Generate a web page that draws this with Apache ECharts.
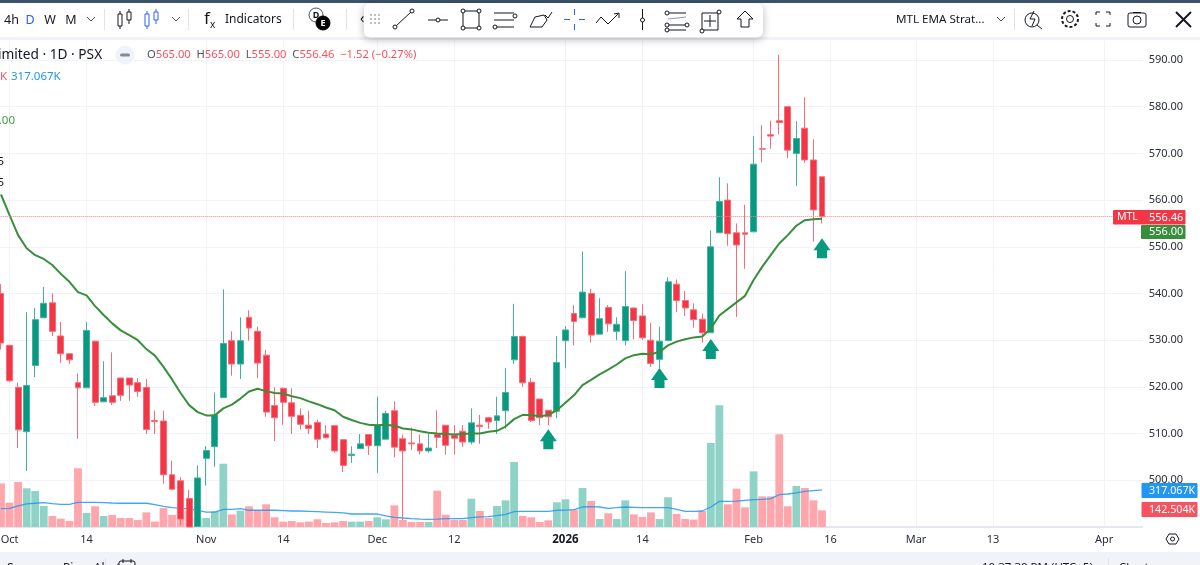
<!DOCTYPE html>
<html>
<head>
<meta charset="utf-8">
<title>MTL EMA Strategy</title>
<script src="https://cdn.jsdelivr.net/npm/echarts@6/dist/echarts.min.js"></script>
<style>
html,body{margin:0;padding:0;background:#fff;overflow:hidden}
#chart{width:1200px;height:565px}
</style>
</head>
<body>
<div id="chart"></div>
<script>
// trading days, last few are the empty space right of the last candle
var days = ['09-30','10-01','10-02','10-03','10-06','10-07','10-08','10-09','10-10','10-13',
 '10-14','10-15','10-16','10-17','10-20','10-21','10-22','10-23','10-24','10-27',
 '10-28','10-29','10-30','10-31','11-03','11-04','11-05','11-06','11-07','11-10',
 '11-11','11-12','11-13','11-14','11-17','11-18','11-19','11-20','11-21','11-24',
 '11-25','11-26','11-27','11-28','12-01','12-02','12-03','12-04','12-05','12-08',
 '12-09','12-10','12-11','12-12','12-15','12-16','12-17','12-18','12-19','12-22',
 '12-23','12-24','12-26','12-29','12-30','12-31','01-01','01-02','01-05','01-06',
 '01-07','01-08','01-09','01-12','01-13','01-14','01-15','01-16','01-19','01-20',
 '01-21','01-22','01-23','01-26','01-27','01-28','01-29','01-30','02-02','02-03',
 '02-04','02-06','02-09','02-10','02-11','02-12','02-13','02-16','02-17','02-18',
 '02-19','02-20','02-23','02-24','02-25','02-26','02-27','03-02','03-03','03-04',
 '03-05','03-06','03-09','03-10','03-11','03-12','03-13','03-16','03-17','03-18',
 '03-19','03-20','03-23','03-24','03-25','03-26','03-27','03-30','03-31','04-01',
 '04-02','04-03','04-06','04-07'];

var tickDays = ['10-01','10-14','11-03','11-14','12-01','12-12','01-01','01-14','02-02','02-16','03-02','03-13','04-01'];
var tickText = ['Oct','14','Nov','14','Dec','12','2026','14','Feb','16','Mar','13','Apr'];

var opens = [540.0,528.9,519.9,510.4,524.6,534.8,538.0,530.9,527.1,520.9,
 519.8,529.8,516.8,518.1,521.9,521.9,520.9,519.9,512.8,512.7,
 501.2,499.9,496.1,490.1,504.7,507.2,517.7,529.9,524.9,534.9,
 531.9,526.8,516.0,519.7,516.6,513.9,511.8,512.4,509.9,511.7,
 508.7,505.3,506.8,509.8,507.4,508.8,514.9,508.9,508.0,507.8,
 506.3,509.8,511.8,509.6,510.5,508.2,511.8,513.4,512.8,514.9,
 525.8,530.8,521.0,517.4,515.0,514.8,529.9,535.7,534.8,540.0,
 531.3,537.0,531.9,529.9,536.9,535.2,530.0,525.9,529.9,542.0,
 538.5,536.5,534.5,531.6,553.0,560.0,553.0,553.0,553.2,571.0,
 574.0,577.0,580.0,570.0,575.4,568.6,565.0];
var closes = [529.4,521.3,510.8,520.3,534.4,537.9,531.9,527.1,525.8,519.8,
 532.1,516.7,517.7,516.7,518.2,520.4,519.0,510.9,512.6,501.2,
 498.1,491.7,490.0,500.5,506.4,514.0,529.3,524.9,529.9,532.6,
 525.1,514.6,513.4,516.7,513.7,512.0,511.1,508.8,509.1,506.3,
 503.2,505.6,507.8,507.4,511.8,514.3,507.1,506.3,507.8,506.3,
 506.9,509.2,507.5,509.0,508.2,512.3,511.5,512.5,513.8,518.8,
 530.8,520.9,512.8,513.4,513.6,525.2,532.2,534.0,540.3,531.1,
 534.6,533.5,533.4,537.2,534.2,530.5,525.0,529.8,542.5,538.5,
 536.9,534.4,531.6,550.0,559.7,552.8,550.4,552.7,567.7,570.9,
 573.7,576.6,570.7,573.2,568.6,557.9,556.46];
var lows = [528.0,521.1,506.9,502.0,522.1,534.8,530.9,525.1,524.9,508.9,
 519.8,515.9,516.8,516.1,517.0,517.0,517.9,509.9,509.9,499.3,
 497.9,490.4,490.0,490.1,498.9,502.9,517.7,522.4,521.7,529.9,
 521.9,513.6,508.4,511.9,509.9,510.9,509.9,506.9,509.1,505.9,
 501.8,503.7,506.8,505.4,501.6,508.8,504.9,491.5,506.5,505.5,
 505.9,506.9,505.5,505.5,507.2,507.7,507.8,511.0,509.9,511.1,
 524.9,520.0,512.5,511.8,511.8,513.3,524.0,528.9,534.8,529.5,
 531.3,531.8,530.0,528.9,530.2,530.0,524.3,524.0,529.9,536.0,
 535.2,532.7,529.5,531.6,553.0,550.2,535.0,545.3,553.2,568.1,
 571.0,574.1,569.0,563.0,568.0,551.1,555.0];
var highs = [542.0,528.9,520.9,536.0,536.9,541.4,540.0,533.9,527.1,522.9,
 533.9,529.8,525.5,527.4,521.9,521.9,521.9,521.7,514.9,514.9,
 504.2,500.7,497.9,503.2,507.3,518.8,540.9,531.9,534.9,536.4,
 532.9,527.9,519.9,519.9,519.7,515.4,514.9,513.0,511.8,511.7,
 508.7,507.3,509.9,509.9,517.9,514.9,516.9,509.8,511.3,509.8,
 510.0,515.0,511.8,511.8,511.8,515.4,514.0,513.6,517.9,524.0,
 537.8,531.0,521.9,517.4,515.0,530.9,533.0,537.5,549.0,541.0,
 539.0,537.5,534.9,544.8,537.0,537.7,533.7,532.9,543.5,543.0,
 540.5,537.9,535.7,553.5,564.9,563.6,555.0,559.0,573.7,576.1,
 577.0,591.1,580.0,576.9,582.0,573.0,565.0];

var ema = [561.2,556.8,552.5,549.7,548.2,547.4,546.1,544.2,542.5,540.3,
 539.6,537.3,535.4,533.6,532.1,531.1,530.0,528.1,526.7,524.3,
 521.6,518.7,516.1,514.6,513.9,513.9,515.4,516.2,517.5,519.0,
 519.6,519.1,518.7,518.6,518.0,517.6,516.9,516.3,515.6,515.0,
 513.6,512.9,512.3,511.9,511.8,511.9,511.7,511.1,510.9,510.5,
 510.2,510.0,509.9,509.8,509.9,510.0,510.0,510.4,510.6,511.5,
 513.1,514.0,514.0,513.7,514.0,515.0,516.6,518.2,520.4,521.5,
 522.7,523.7,524.8,526.1,526.8,527.1,527.0,527.5,528.9,529.7,
 530.2,530.6,530.8,532.5,535.3,536.7,538.1,539.5,542.9,545.7,
 548.2,550.7,552.5,554.5,555.7,555.9,556.0];

// volume in thousands
var volume = [373,208,385,331,308,180,94,71,51,502,
 120,177,94,103,77,77,60,125,46,162,
 103,157,145,74,77,134,541,108,140,177,
 140,194,83,46,51,40,46,66,34,40,
 51,46,46,51,83,66,185,60,43,43,
 43,311,105,60,60,242,137,77,180,228,
 556,94,83,43,57,211,237,148,333,222,
 68,117,68,228,108,86,125,68,254,111,
 68,63,137,718,1040,194,328,168,476,262,
 262,793,177,351,333,228,142.504];
var volumeMa = [157,160,180,197,203,208,200,194,194,211,
 211,211,208,205,203,203,203,203,191,177,
 165,162,154,143,128,128,151,151,157,143,
 143,143,143,140,137,137,134,131,128,125,
 120,111,111,111,111,95,83,77,71,68,
 66,68,71,71,71,80,86,88,97,108,
 131,134,134,134,134,143,145,148,171,174,
 171,160,165,171,168,165,165,165,165,151,
 134,134,137,171,219,219,222,228,234,237,
 242,276,282,291,305,311,317.067];

var arrowDays = ['12-30','01-16','01-26','02-13'];
var arrowPrices = [508.8,521.9,528.1,549.7];

var lastClose = 556.46;

var red = '#F23645', green = '#089981', ink = '#131722', blue = '#2962FF', sep = '#E0E3EB';
var font = '"Noto Sans", sans-serif';

function candles() {
  var out = [];
  for (var i = 0; i < opens.length; i++) {
    out.push([opens[i], closes[i], lows[i], highs[i]]);
  }
  return out;
}
function volBars() {
  return volume.map(function (v, i) {
    return {
      value: v,
      itemStyle: {color: closes[i] >= opens[i] ? '#8FD3C6' : '#FFA6AD'}
    };
  });
}
function isTick(index, value) {
  return tickDays.indexOf(value) >= 0;
}

// header furniture, all just drawn on top of the chart
var Z = 100;
function ln(x1, y1, x2, y2, c, w) {
  return {type: 'line', z: Z, silent: true, shape: {x1: x1, y1: y1, x2: x2, y2: y2}, style: {stroke: c || ink, lineWidth: w || 1, fill: null}};
}
function dot(x, y, r, c, f) {
  return {type: 'circle', z: Z, silent: true, shape: {cx: x, cy: y, r: r}, style: {stroke: c || ink, fill: f || '#fff', lineWidth: 1}};
}
function box(x, y, w, h, f, s, r, extra) {
  var o = {type: 'rect', z: Z, silent: true, shape: {x: x, y: y, width: w, height: h, r: r || 0}, style: {fill: f, stroke: s || null, lineWidth: 1}};
  if (extra) { for (var k in extra) { o.style[k] = extra[k]; } }
  return o;
}
function txt(x, y, s, c, size, align, weight) {
  return {type: 'text', z: Z + 1, silent: true, x: x, y: y, style: {text: s, fill: c || ink, align: align || 'left', verticalAlign: 'middle',
    font: (weight || 'normal') + ' ' + (size || 12) + 'px ' + font}};
}
function poly(points, c, f) {
  return {type: 'polyline', z: Z, silent: true, shape: {points: points}, style: {stroke: c || ink, lineWidth: 1, fill: f || null}};
}
function chevron(x, y) {
  return poly([[x - 4, y - 2], [x, y + 2], [x + 4, y - 2]], '#50535E');
}
function candleIcon(x, c) {
  return [box(x, 14, 4, 12, '#fff', c), ln(x + 2, 11, x + 2, 14, c), ln(x + 2, 26, x + 2, 29, c),
    box(x + 9, 12, 4, 8, '#fff', c), ln(x + 11, 9, x + 11, 12, c), ln(x + 11, 20, x + 11, 24, c)];
}

function header() {
  var g = [];
  g.push(box(0, 0, 1200, 38, '#fff'));
  g.push(box(0, 0, 1200, 3, '#3B5268'));
  g.push(box(0, 37, 1200, 3, '#F1F3F8'));
  g.push(txt(4, 20, '4h', ink, 12.5));
  g.push(txt(30, 20, 'D', blue, 12.5, 'center'));
  g.push(txt(50, 20, 'W', ink, 12.5, 'center'));
  g.push(txt(71, 20, 'M', ink, 12.5, 'center'));
  g.push(chevron(91, 19));
  g.push(ln(104.5, 9, 104.5, 30, sep));
  g = g.concat(candleIcon(118, ink));
  g = g.concat(candleIcon(145, blue));
  g.push(chevron(176, 19));
  g.push(ln(188.5, 9, 188.5, 30, sep));
  g.push(txt(204, 19, 'f', ink, 17));
  g.push(txt(210, 25, 'x', ink, 10));
  g.push(txt(225, 19.5, 'Indicators', ink, 12));
  g.push(ln(293.5, 9, 293.5, 30, sep));
  g.push(dot(316, 15, 7, '#50535E'));
  g.push(txt(316, 15, 'D', ink, 9, 'center', 'bold'));
  g.push(dot(323, 23, 7, '#000', '#000'));
  g.push(txt(323, 23, 'E', '#fff', 9, 'center', 'bold'));
  g.push(ln(346.5, 9, 346.5, 30, sep));
  g.push(txt(360, 19, '‹', ink, 14));

  // floating drawing toolbar
  g.push(box(364, 3, 399, 34.5, '#fff', null, 6, {shadowBlur: 8, shadowColor: 'rgba(0,0,0,0.28)', shadowOffsetY: 2}));
  [371, 375, 379].forEach(function (x) {
    [15, 19, 23].forEach(function (y) { g.push(dot(x, y, 0.7, '#B2B5BE', '#B2B5BE')); });
  });
  g.push(ln(396, 26, 411, 12)); g.push(dot(395, 27, 2)); g.push(dot(412, 11, 2));
  g.push(ln(428, 20, 448, 20)); g.push(dot(438, 20, 2));
  g.push(box(463, 11, 16, 17, 'none', ink)); [[463, 11], [479, 11], [463, 28], [479, 28]].forEach(function (p) { g.push(dot(p[0], p[1], 2)); });
  g.push(ln(494, 13, 514, 13)); g.push(ln(494, 20, 514, 20)); g.push(ln(494, 27, 514, 27)); g.push(dot(515, 16, 2)); g.push(dot(495, 27, 2));
  g.push(poly([[530, 27], [535, 17], [544, 15], [547, 20], [542, 27], [530, 27]]));
  g.push(poly([[545, 15], [548, 18], [552, 12]]));
  g.push(ln(574.5, 9, 574.5, 15, '#2962FF')); g.push(ln(574.5, 24, 574.5, 30, '#2962FF'));
  g.push(ln(564, 19.5, 570, 19.5, '#2962FF')); g.push(ln(579, 19.5, 585, 19.5, '#2962FF'));
  g.push(poly([[596, 23], [601, 17], [608, 24], [618, 14]])); g.push(poly([[614, 14], [619, 13], [619, 18]]));
  g.push(ln(642.5, 9, 642.5, 30)); g.push(dot(642.5, 20, 2));
  g.push(ln(668, 13, 686, 13)); g.push(ln(668, 19, 686, 17, '#9598A1')); g.push(ln(668, 25, 686, 25)); g.push(ln(668, 30, 686, 30));
  [[667, 13], [667, 25], [667, 30], [687, 25]].forEach(function (p) { g.push(dot(p[0], p[1], 2)); });
  g.push(box(702, 13, 16, 17, 'none', ink)); g.push(dot(719, 12, 2)); g.push(dot(702, 31, 2));
  g.push(ln(710, 15, 710, 27)); g.push(ln(704, 21, 716, 21));
  g.push(poly([[745, 11], [753, 19], [749, 19], [749, 27], [741, 27], [741, 19], [737, 19], [745, 11]]));

  // right side of the header
  g.push(txt(896, 20, 'MTL EMA Strat...', ink, 11.6));
  g.push(chevron(1001, 19));
  g.push(ln(1014.5, 9, 1014.5, 30, sep));
  g.push(dot(1032, 20, 7, ink, '#fff')); g.push(ln(1037, 25, 1042, 29));
  g.push(poly([[1034, 11], [1030, 19], [1035, 19], [1032, 26]], ink));
  g.push(dot(1070, 19, 3.5)); g.push({type: 'circle', z: Z, silent: true, shape: {cx: 1070, cy: 19, r: 8}, style: {stroke: ink, fill: 'none', lineWidth: 2, lineDash: [3, 2]}});
  g.push(poly([[1096, 15], [1096, 12], [1100, 12]])); g.push(poly([[1106, 12], [1110, 12], [1110, 15]]));
  g.push(poly([[1096, 23], [1096, 26], [1100, 26]])); g.push(poly([[1106, 26], [1110, 26], [1110, 23]]));
  g.push(box(1128, 13, 18, 14, 'none', ink, 2)); g.push(dot(1137, 20, 4)); g.push(ln(1133, 12.5, 1141, 12.5));
  g.push(ln(1176, 12, 1191, 27, ink, 2)); g.push(ln(1191, 12, 1176, 27, ink, 2));

  // legend rows, cut off by the window edge as in the screenshot
  g.push(txt(-2, 55, 'imited · 1D · PSX', ink, 13.7));
  g.push(dot(125, 55, 9, '#F0F3FA', '#F0F3FA'));
  g.push(box(120, 53.5, 10, 3, '#868993', null, 1.5));
  g.push({type: 'text', z: Z + 1, silent: true, x: 147, y: 55, style: {
    text: '{g|O}{r|565.00}  {g|H}{r|565.00}  {g|L}{r|555.00}  {g|C}{r|556.46}  {r|−1.52 (−0.27%)}',
    verticalAlign: 'middle', font: '11.2px ' + font,
    rich: {g: {fill: '#50535E', font: '11.2px ' + font}, r: {fill: '#F7525F', font: '11.2px ' + font}}
  }});
  g.push(txt(0, 77, 'K', '#F7525F', 11.5));
  g.push(txt(11, 77, '317.067K', '#2196F3', 11.5));
  g.push(txt(15, 120.5, '1.00', '#43A047', 11.5, 'right'));
  g.push(txt(4, 162, '5', ink, 11.5, 'right'));
  g.push(txt(4, 183, '5', ink, 11.5, 'right'));

  // price tags on the scale
  g.push(box(1113, 210, 72.5, 14.5, red, null, 1));
  g.push(txt(1117, 217.5, 'MTL', '#fff', 10.5));
  g.push(txt(1149, 217.5, '556.46', '#fff', 11));
  g.push(box(1141, 225, 44.5, 14, '#388E3C', null, 1));
  g.push(txt(1149, 232, '556.00', '#fff', 11));
  g.push(box(1141.5, 483, 56, 15, '#2196F3', null, 1));
  g.push(txt(1149, 490.5, '317.067K', '#fff', 10.7));
  g.push(box(1141.5, 502, 56, 15, '#F7525F', null, 1));
  g.push(txt(1149, 509.5, '142.504K', '#fff', 10.7));

  // settings badge on the time scale
  g.push(poly([[1166, 539], [1169, 534], [1176, 534], [1179, 539], [1176, 544], [1169, 544], [1166, 539]]));
  g.push(dot(1172.5, 539, 2));

  // footer strip
  g.push(box(0, 552, 1200, 13, '#F1F3F8'));
  g.push(ln(105.5, 558, 105.5, 565, sep));
  g.push(box(119, 561, 16, 10, 'none', ink, 2));
  g.push(ln(123, 559, 123, 563)); g.push(ln(131, 559, 131, 563));
  g.push(txt(7, 569, 'Screener  Pine  Alerts', ink, 12));
  g.push(txt(982, 568, '10:37:30 PM (UTC+5)', ink, 11.5));
  g.push(ln(1108.5, 558, 1108.5, 565, sep));
  g.push(txt(1119, 568, 'Chart', ink, 11.5));
  return g;
}

var option = {
  animation: false,
  backgroundColor: '#fff',
  grid: {left: -3.28, top: 13.3, width: 1145.97, height: 513.7, containLabel: false, outerBoundsMode: 'none'},
  xAxis: {
    type: 'category',
    data: days,
    axisLine: {lineStyle: {color: '#E0E3EB', width: 1.5}},
    axisTick: {show: false},
    axisLabel: {
      interval: isTick,
      margin: 7,
      color: '#2A2E39',
      fontSize: 11,
      fontFamily: font,
      hideOverlap: false,
      formatter: function (value) {
        var t = tickText[tickDays.indexOf(value)];
        return t === '2026' ? '{b|' + t + '}' : t;
      },
      rich: {b: {fontWeight: 'bold', fontSize: 11.5, color: ink, fontFamily: font}}
    },
    splitLine: {show: true, interval: isTick, alignWithLabel: true, lineStyle: {color: '#F2F3F6', width: 1}}
  },
  yAxis: [{
    type: 'value',
    position: 'right',
    min: 490,
    max: 600,
    interval: 10,
    axisLine: {show: false},
    axisTick: {show: false},
    axisLabel: {
      margin: 6,
      color: '#2A2E39',
      fontSize: 11,
      fontFamily: font,
      formatter: function (v) { return (v === 490 || v === 600) ? '' : v.toFixed(2); }
    },
    splitLine: {lineStyle: {color: '#F2F3F6', width: 1}}
  }, {
    type: 'value',
    min: 0,
    max: 4392,
    show: false,
    splitLine: {show: false}
  }],
  series: [{
    name: 'Volume',
    type: 'bar',
    yAxisIndex: 1,
    barWidth: 7.8,
    z: 1,
    data: volBars()
  }, {
    name: 'Vol MA',
    type: 'line',
    yAxisIndex: 1,
    z: 2,
    symbol: 'none',
    lineStyle: {color: '#2196F3', width: 1.3, opacity: 0.85},
    data: volumeMa
  }, {
    name: 'MTL',
    type: 'candlestick',
    z: 3,
    barWidth: 6.4,
    itemStyle: {color: green, color0: red, borderColor: '#45B09E', borderColor0: '#F76C77', borderWidth: 1},
    data: candles(),
    markLine: {
      silent: true,
      symbol: 'none',
      animation: false,
      label: {show: false},
      lineStyle: {color: '#F7838C', type: [1, 1], width: 1},
      data: [{yAxis: lastClose}]
    }
  }, {
    name: 'EMA',
    type: 'line',
    z: 4,
    symbol: 'none',
    lineStyle: {color: '#388E3C', width: 2},
    data: ema
  }, {
    name: 'Signal',
    type: 'scatter',
    z: 5,
    symbol: 'path://M8.5,0 L17,12 L13.5,12 L13.5,20 L3.5,20 L3.5,12 L0,12 Z',
    symbolSize: [17, 20],
    itemStyle: {color: green, opacity: 1},
    data: arrowDays.map(function (d, i) { return [d, arrowPrices[i]]; })
  }],
  graphic: header()
};

var chart = echarts.init(document.getElementById('chart'), null, {renderer: 'canvas'});
chart.setOption(option);
</script>
</body>
</html>
